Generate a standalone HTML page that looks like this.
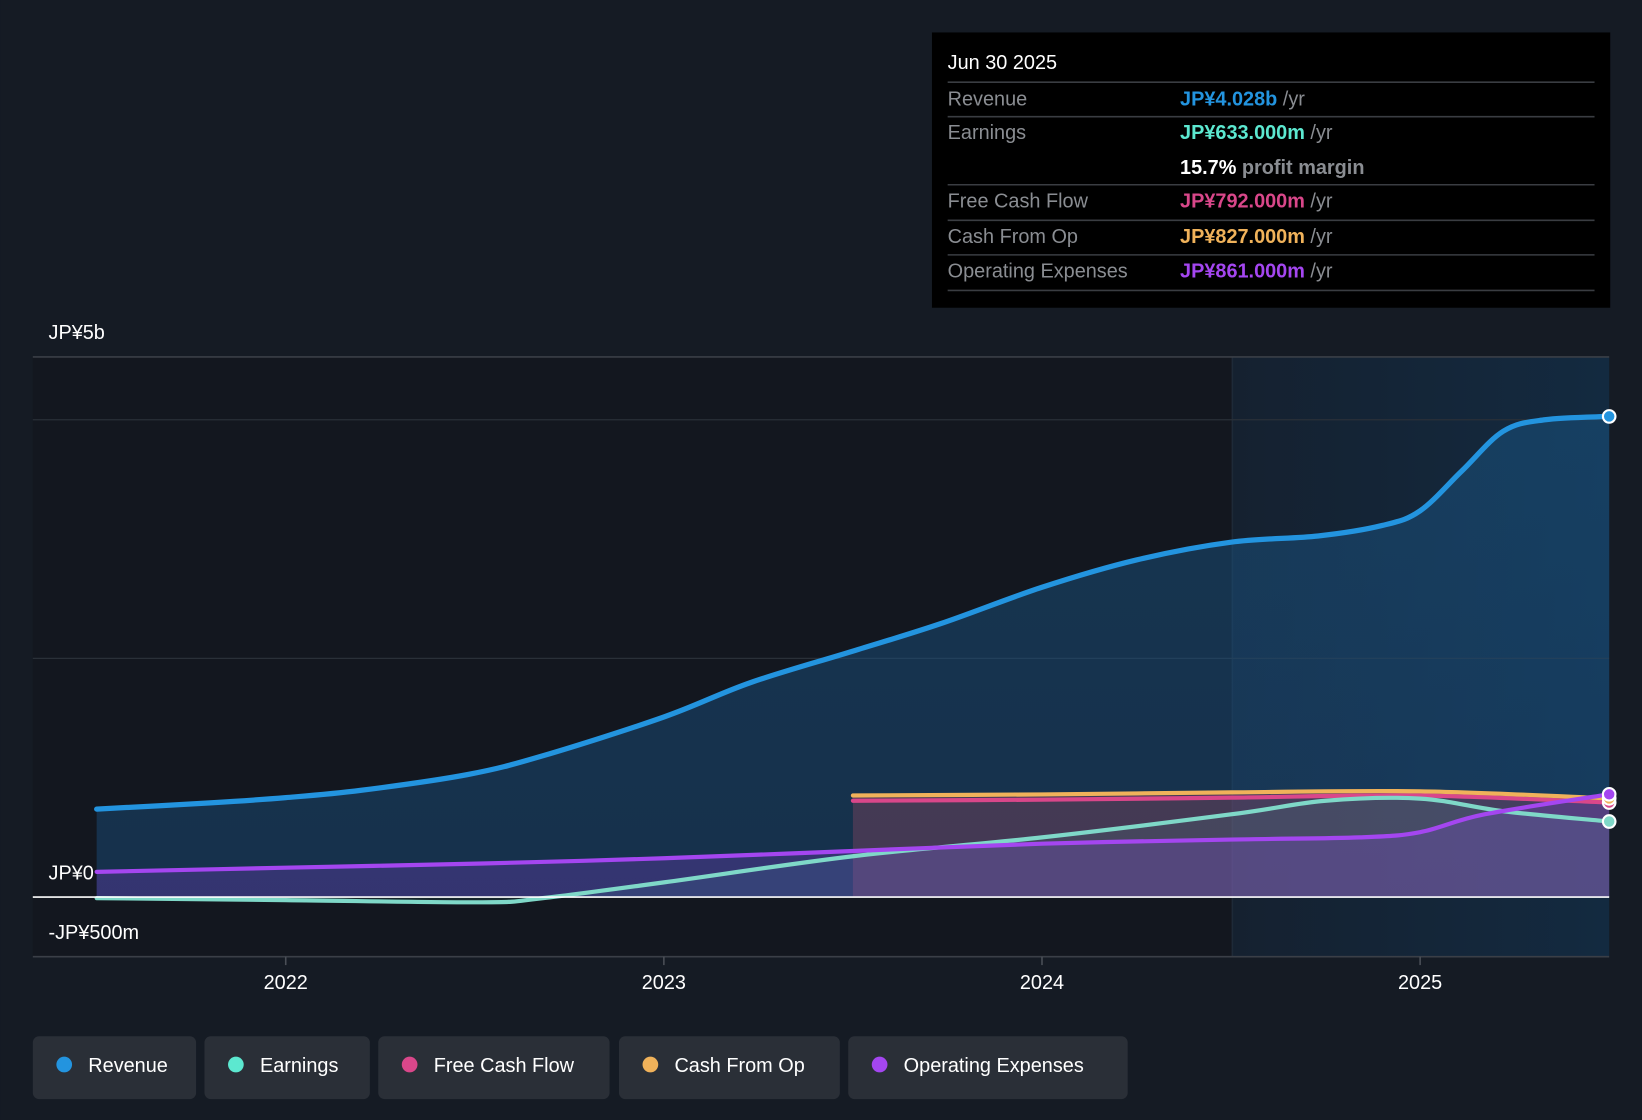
<!DOCTYPE html>
<html><head><meta charset="utf-8"><style>
html,body{margin:0;padding:0;background:#151b24;}
svg{display:block;font-family:"Liberation Sans",sans-serif;}
</style></head><body>
<svg id="chart" width="1642" height="1120" viewBox="0 0 1568 1070" xmlns="http://www.w3.org/2000/svg">
<defs>
<linearGradient id="hl" x1="0" x2="1" y1="0" y2="0"><stop offset="0" stop-color="#152130"/><stop offset="1" stop-color="#132a40"/></linearGradient>
<linearGradient id="revFill" x1="0" x2="0" y1="0" y2="1"><stop offset="0" stop-color="#1a5a8c" stop-opacity="0.45"/><stop offset="1" stop-color="#1a4a78" stop-opacity="0.5"/></linearGradient>
</defs>
<rect width="1568" height="1070" fill="#151b24"/>
<rect x="31" y="341" width="1146" height="573" fill="#13171f"/>
<rect x="1177" y="341" width="360" height="573" fill="url(#hl)"/>
<line x1="1177" y1="341" x2="1177" y2="914" stroke="#1e2a38" stroke-width="1.5"/>
<g id="grid"></g>
<g id="areas"></g>
<g id="lines"></g>
<g id="axes"></g>
<g>
<rect x="890" y="31" width="648" height="263" fill="#000"/>
<text x="905" y="66" fill="#fff" font-size="19">Jun 30 2025</text>
<g stroke="#3a3d42" stroke-width="1.5">
<line x1="905" y1="78.5" x2="1523" y2="78.5"/><line x1="905" y1="111.5" x2="1523" y2="111.5"/>
<line x1="905" y1="176.5" x2="1523" y2="176.5"/><line x1="905" y1="210.5" x2="1523" y2="210.5"/>
<line x1="905" y1="243.5" x2="1523" y2="243.5"/><line x1="905" y1="277.5" x2="1523" y2="277.5"/></g>
<g font-size="19" fill="#8a8d92">
<text x="905" y="101">Revenue</text><text x="905" y="133">Earnings</text>
<text x="905" y="198">Free Cash Flow</text><text x="905" y="232">Cash From Op</text><text x="905" y="265">Operating Expenses</text></g>
<g font-size="19" font-weight="bold">
<text x="1127" y="101"><tspan fill="#2394df">JP¥4.028b</tspan><tspan fill="#8a8d92" font-weight="normal"> /yr</tspan></text>
<text x="1127" y="133"><tspan fill="#5ce8d0">JP¥633.000m</tspan><tspan fill="#8a8d92" font-weight="normal"> /yr</tspan></text>
<text x="1127" y="166"><tspan fill="#fff">15.7%</tspan><tspan fill="#8a8d92"> profit margin</tspan></text>
<text x="1127" y="198"><tspan fill="#d9478a">JP¥792.000m</tspan><tspan fill="#8a8d92" font-weight="normal"> /yr</tspan></text>
<text x="1127" y="232"><tspan fill="#f0b25a">JP¥827.000m</tspan><tspan fill="#8a8d92" font-weight="normal"> /yr</tspan></text>
<text x="1127" y="265"><tspan fill="#a446f0">JP¥861.000m</tspan><tspan fill="#8a8d92" font-weight="normal"> /yr</tspan></text>
</g></g>
<g id="legend"></g>
</svg>
<script>
const yearTicks=[2022,2023,2024,2025];
const yTickVals=[4000,2000];
const revX=[2021.5,2021.8,2022,2022.2,2022.48,2022.68,2023,2023.23,2023.5,2023.73,2024,2024.25,2024.5,2024.73,2024.9,2025,2025.11,2025.22,2025.33,2025.5];
const revV=[737,789,833,895,1026,1184,1509,1798,2061,2289,2596,2825,2974,3026,3114,3237,3570,3904,4000,4028];
const earnX=[2021.5,2022,2022.52,2022.68,2023,2023.5,2024,2024.5,2024.75,2025,2025.22,2025.5];
const earnV=[-9,-26,-44,-9,123,342,500,693,807,825,719,633];
const opexX=[2021.5,2022,2022.52,2023,2023.5,2024,2024.5,2024.84,2025,2025.17,2025.5];
const opexV=[211,246,281,325,386,447,482,500,544,693,861];
const fcfX=[2023.5,2024,2024.5,2025,2025.5];
const fcfV=[807,816,833,851,792];
const cfoX=[2023.5,2024,2024.5,2025,2025.5];
const cfoV=[851,860,877,886,827];
const NS='http://www.w3.org/2000/svg';
const xS=t=>92+(t-2021.5)*361.25;
const yS=v=>857-v*0.114;
function mk(tag,attrs,parent){const e=document.createElementNS(NS,tag);for(const k in attrs)e.setAttribute(k,attrs[k]);document.getElementById(parent).appendChild(e);return e;}
function path(xs,vs){const P=xs.map((x,i)=>[xS(x),yS(vs[i])]);let d='M'+P[0][0]+','+P[0][1];
for(let i=0;i<P.length-1;i++){const p0=P[Math.max(0,i-1)],p1=P[i],p2=P[i+1],p3=P[Math.min(P.length-1,i+2)];
const c1x=p1[0]+(p2[0]-p0[0])/6,c1y=p1[1]+(p2[1]-p0[1])/6,c2x=p2[0]-(p3[0]-p1[0])/6,c2y=p2[1]-(p3[1]-p1[1])/6;
d+=' C'+c1x+','+c1y+' '+c2x+','+c2y+' '+p2[0]+','+p2[1];}return d;}
function area(xs,vs){return path(xs,vs)+' L'+xS(xs[xs.length-1])+','+yS(0)+' L'+xS(xs[0])+','+yS(0)+' Z';}
let g=mk('line',{x1:31,x2:1537,y1:341,y2:341,stroke:'#3a3f47','stroke-width':1.5},'grid');

yTickVals.forEach(v=>{const l=mk('line',{x1:31,x2:1537,y1:yS(v),y2:yS(v),stroke:'#2a3038','stroke-width':1.2},'grid');
});
const aR=mk('path',{d:area(revX,revV),fill:'url(#revFill)'},'areas');

const aC=mk('path',{d:area(cfoX,cfoV),fill:'#c0506a',opacity:0.28},'areas');

const aO=mk('path',{d:area(opexX,opexV),fill:'#7a40c8',opacity:0.3},'areas');

const aE=mk('path',{d:area(earnX,earnV),fill:'#5ce8d0',opacity:0.08},'areas');

const series=[['free-cash-flow-line',fcfX,fcfV,'#d9478a'],['cash-from-op-line',cfoX,cfoV,'#f0b25a'],['earnings-line',earnX,earnV,'#7fd8c8'],['opex-line',opexX,opexV,'#a446f0'],['revenue-line',revX,revV,'#2394df']];
series.forEach(s=>{const p=mk('path',{d:path(s[1],s[2]),fill:'none',stroke:s[3],'stroke-width':s[0]==='revenue-line'?5:4,'stroke-linecap':'round'},'lines');
});
series.forEach(s=>{const n=s[1].length-1;const c=mk('circle',{cx:xS(s[1][n]),cy:yS(s[2][n]),r:6,fill:s[3],stroke:'#fff','stroke-width':2},'lines');
});
const z=mk('line',{x1:31,x2:1537,y1:yS(0),y2:yS(0),stroke:'#fff','stroke-width':1.5},'axes');

const b=mk('line',{x1:31,x2:1537,y1:914,y2:914,stroke:'#3a3f47','stroke-width':1.5},'axes');

yearTicks.forEach(y=>{const t=mk('line',{x1:xS(y),x2:xS(y),y1:914,y2:922,stroke:'#4a4f57','stroke-width':1.5},'axes');

const tx=mk('text',{x:xS(y),y:945,fill:'#fff','font-size':19,'text-anchor':'middle'},'axes');tx.textContent=y;
});
[['JP¥5b',324],['JP¥0',840],['-JP¥500m',897]].forEach(a=>{const t=mk('text',{x:46,y:a[1],fill:'#fff','font-size':19},'axes');t.textContent=a[0];
});
const leg=[['Revenue','#2394df',31,156],['Earnings','#5ce8d0',195,158],['Free Cash Flow','#d9478a',361,221],['Cash From Op','#f0b25a',591,211],['Operating Expenses','#a446f0',810,267]];
leg.forEach(l=>{const r=mk('rect',{x:l[2],y:990,width:l[3],height:60,rx:6,fill:'#2a2f37'},'legend');

const c=mk('circle',{cx:l[2]+30,cy:1017,r:7.5,fill:l[1]},'legend');

const t=mk('text',{x:l[2]+53,y:1024,fill:'#fff','font-size':19},'legend');t.textContent=l[0];
});
</script>
</body></html>
